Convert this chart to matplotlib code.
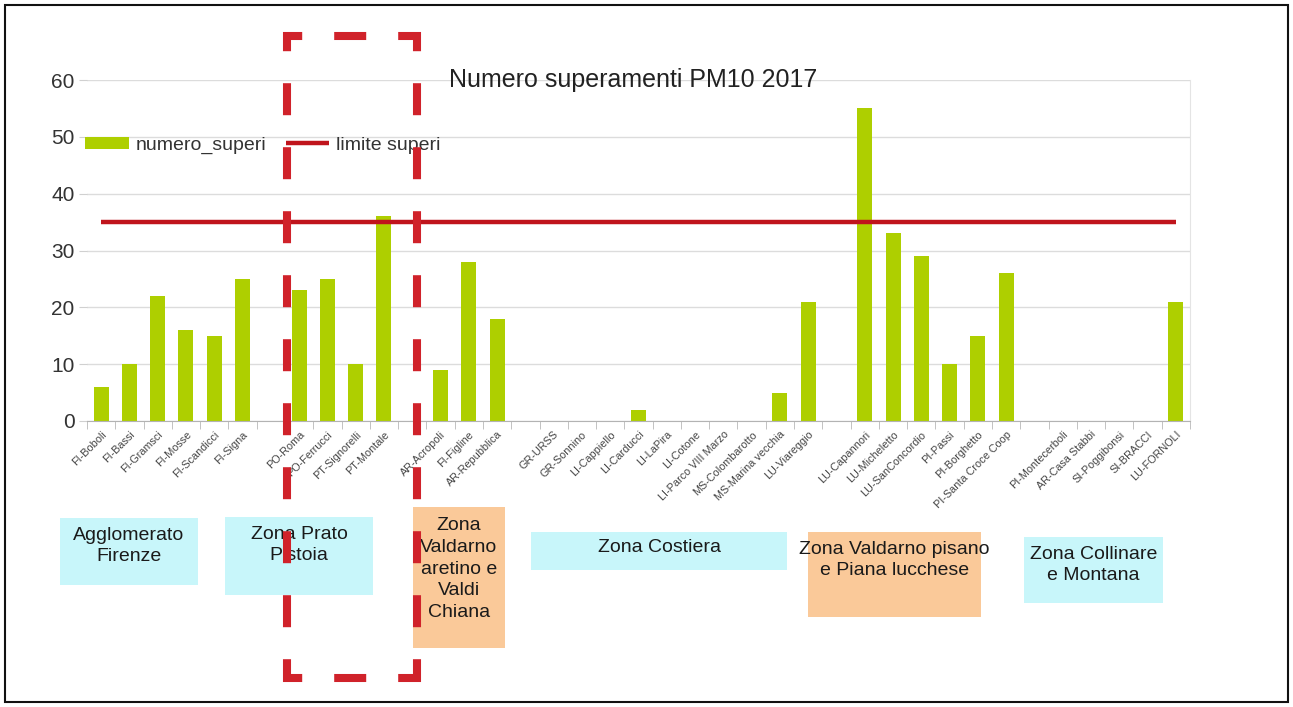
import matplotlib
matplotlib.use("Agg")
import matplotlib.pyplot as plt
from matplotlib.lines import Line2D
from matplotlib.patches import Rectangle

plt.rcParams['font.family'] = ['Liberation Sans', 'DejaVu Sans']
plt.rcParams['lines.scale_dashes'] = False

# stations ('' = empty slot between zones)
stations = ['FI-Boboli', 'FI-Bassi', 'FI-Gramsci', 'FI-Mosse', 'FI-Scandicci', 'FI-Signa', '',
            'PO-Roma', 'PO-Ferrucci', 'PT-Signorelli', 'PT-Montale', '',
            'AR-Acropoli', 'FI-Figline', 'AR-Repubblica', '',
            'GR-URSS', 'GR-Sonnino', 'LI-Cappiello', 'LI-Carducci', 'LI-LaPira', 'LI-Cotone',
            'LI-Parco VIII Marzo', 'MS-Colombarotto', 'MS-Marina vecchia', 'LU-Viareggio', '',
            'LU-Capannori', 'LU-Micheletto', 'LU-SanConcordio', 'PI-Passi', 'PI-Borghetto',
            'PI-Santa Croce Coop', '',
            'PI-Montecerboli', 'AR-Casa Stabbi', 'SI-Poggibonsi', 'SI-BRACCI', 'LU-FORNOLI']
superi = [6, 10, 22, 16, 15, 25, 0,
          23, 25, 10, 36, 0,
          9, 28, 18, 0,
          0, 0, 0, 2, 0, 0, 0, 0, 5, 21, 0,
          55, 33, 29, 10, 15, 26, 0,
          0, 0, 0, 0, 21]
limite = 35

zone_names = ['Agglomerato\nFirenze', 'Zona Prato\nPistoia', 'Zona\nValdarno\naretino e\nValdi\nChiana',
              'Zona Costiera', 'Zona Valdarno pisano\ne Piana lucchese', 'Zona Collinare\ne Montana']
zone_colors = ['#c8f6fa', '#c8f6fa', '#fac999', '#c8f6fa', '#fac999', '#c8f6fa']

W, H = 1293, 707
fig = plt.figure(figsize=(W / 100, H / 100), dpi=100)


def fx(px):
    return px / W


def fy(py):
    return 1 - py / H


ax = fig.add_axes([fx(87), fy(421), fx(1190) - fx(87), fy(80) - fy(421)])
x = list(range(len(stations)))
bars = ax.bar(x, superi, width=0.53, color='#aecf00', label='numero_superi', zorder=2)
lim = ax.hlines(limite, 0, len(stations) - 1, color='#c0141c', lw=3.2, label='limite superi', zorder=3)

ax.set_xlim(-0.5, len(stations) - 0.5)
ax.set_ylim(0, 60)
ax.set_yticks(range(0, 61, 10))
ax.yaxis.grid(True, color='#dcdcdc', lw=1)
ax.set_axisbelow(True)
ax.tick_params(axis='y', length=6, color='#d0d0d0', labelsize=15, labelcolor='#333333', pad=3)

ax.set_xticks(x)
ax.set_xticklabels(stations, rotation=45, ha='right', rotation_mode='anchor',
                   fontsize=7.8, color='#444444')
ax.set_xticks([i - 0.5 for i in range(len(stations) + 1)], minor=True)
ax.tick_params(axis='x', which='major', length=0, pad=6)
ax.tick_params(axis='x', which='minor', length=6, color='#b8b8b8')

for s in ['top', 'left']:
    ax.spines[s].set_visible(False)
ax.spines['bottom'].set_color('#b3b3b3')
ax.spines['right'].set_color('#e4e4e4')

ax.legend([bars, lim], ['numero_superi', 'limite superi'],
          loc='center left', bbox_to_anchor=(-0.002, 0.809), ncol=2, frameon=False,
          fontsize=14, handlelength=2.25, handleheight=0.6, handletextpad=0.35,
          columnspacing=1.0, borderpad=0, borderaxespad=0, labelcolor='#333333')

fig.text(fx(633), fy(80), 'Numero superamenti PM10 2017', fontsize=18, color='#222222',
         ha='center', va='center')

# zone boxes (left, top, right, bottom in pixels) and text centre
boxes = [(60, 518, 198, 585), (225, 517, 373, 595), (413, 507, 505, 648),
         (531, 532, 787, 570), (808, 532, 981, 617), (1024, 537, 1163, 603)]
text_y = [546, 545, 569, 548, 560, 565]
for (l, t, r, b), name, col, ty in zip(boxes, zone_names, zone_colors, text_y):
    fig.add_artist(Rectangle((fx(l), fy(b)), fx(r) - fx(l), fy(t) - fy(b),
                             transform=fig.transFigure, color=col, lw=0))
    fig.text(fx((l + r) / 2), fy(ty), name, fontsize=14, color='#1a1a1a',
             ha='center', va='center', linespacing=1.35)

# red dashed box
rx0, ry0, rx1, ry1 = 287, 36, 417, 678
half = 4
dash = 32 * 0.72
sides = [((rx0 - half, rx1 + half), (ry0, ry0)), ((rx0 - half, rx1 + half), (ry1, ry1)),
         ((rx0, rx0), (ry0 - half, ry1 + half)), ((rx1, rx1), (ry0 - half, ry1 + half))]
for xs, ys in sides:
    ln = Line2D([fx(v) for v in xs], [fy(v) for v in ys], transform=fig.transFigure,
                color='#d0222a', lw=5.8, solid_capstyle='butt', dash_capstyle='butt',
                linestyle=(dash * 0.4, (dash, dash)), zorder=10)
    fig.add_artist(ln)

# outer frame
fig.add_artist(Rectangle((fx(5), fy(702)), fx(1288) - fx(5), fy(5) - fy(702),
                         transform=fig.transFigure, fill=False, ec='#111111', lw=1.5))

fig.savefig('out.png', dpi=100)
